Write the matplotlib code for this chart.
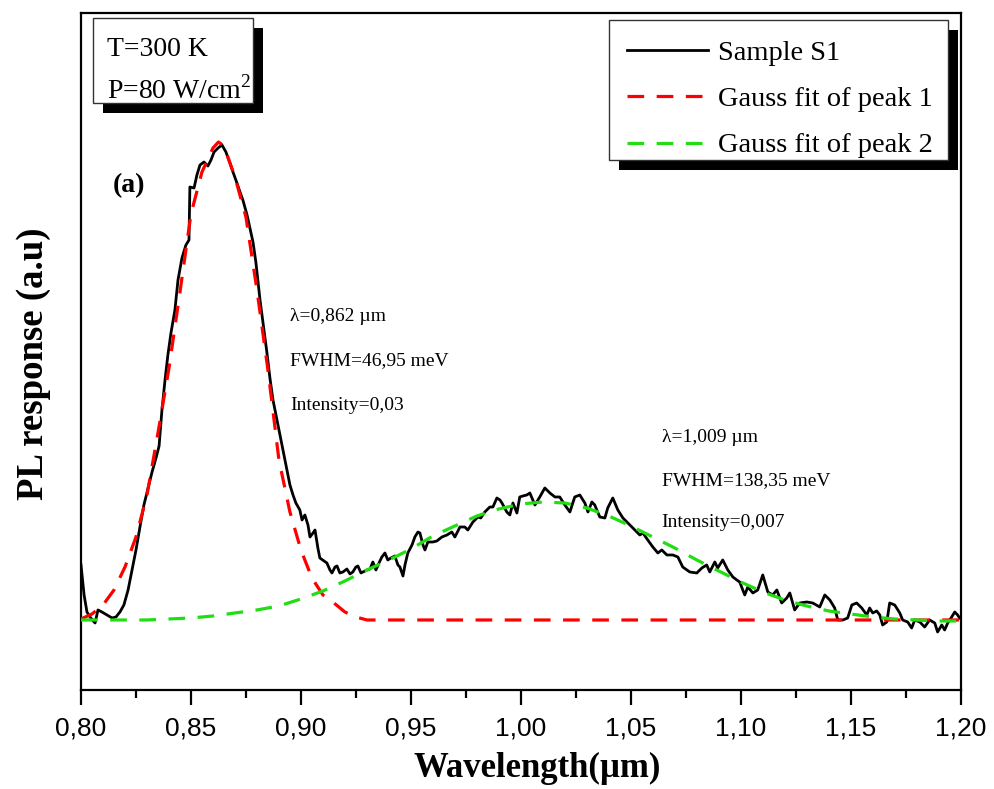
import matplotlib
matplotlib.use("Agg")
import matplotlib.pyplot as plt
from matplotlib.patches import Rectangle
from matplotlib.ticker import MultipleLocator, FuncFormatter

plt.rcParams['font.family'] = ['Liberation Serif', 'DejaVu Serif']
plt.rcParams['lines.scale_dashes'] = False

# measured PL spectrum of sample S1 (wavelength in um, intensity in a.u.)
sample_wl = [0.8000, 0.8014, 0.8027, 0.8041, 0.8055, 0.8064, 0.8077, 0.8095, 0.8118, 0.8141,
             0.8159, 0.8177, 0.8195, 0.8214, 0.8232, 0.8250, 0.8268, 0.8286, 0.8305, 0.8323,
             0.8341, 0.8355, 0.8368, 0.8382, 0.8395, 0.8409, 0.8427, 0.8441, 0.8459, 0.8477,
             0.8491, 0.8495, 0.8514, 0.8527, 0.8541, 0.8559, 0.8577, 0.8591, 0.8605, 0.8623,
             0.8641, 0.8659, 0.8677, 0.8691, 0.8709, 0.8723, 0.8736, 0.8755, 0.8768, 0.8782,
             0.8795, 0.8814, 0.8832, 0.8845, 0.8859, 0.8873, 0.8891, 0.8905, 0.8923, 0.8936,
             0.8950, 0.8964, 0.8977, 0.8995, 0.9005, 0.9018, 0.9032, 0.9041, 0.9055, 0.9064,
             0.9077, 0.9086, 0.9105, 0.9118, 0.9132, 0.9141, 0.9155, 0.9164, 0.9177, 0.9191,
             0.9209, 0.9223, 0.9236, 0.9250, 0.9259, 0.9273, 0.9282, 0.9300, 0.9314, 0.9327,
             0.9341, 0.9355, 0.9368, 0.9382, 0.9395, 0.9409, 0.9427, 0.9441, 0.9450, 0.9464,
             0.9473, 0.9486, 0.9505, 0.9518, 0.9532, 0.9541, 0.9555, 0.9564, 0.9577, 0.9600,
             0.9618, 0.9641, 0.9664, 0.9686, 0.9700, 0.9723, 0.9745, 0.9759, 0.9782, 0.9805,
             0.9818, 0.9836, 0.9859, 0.9873, 0.9891, 0.9905, 0.9914, 0.9936, 0.9950, 0.9964,
             0.9982, 0.9995, 1.0009, 1.0027, 1.0041, 1.0064, 1.0086, 1.0109, 1.0132, 1.0155,
             1.0177, 1.0200, 1.0223, 1.0245, 1.0268, 1.0291, 1.0305, 1.0323, 1.0336, 1.0359,
             1.0382, 1.0395, 1.0418, 1.0441, 1.0464, 1.0482, 1.0495, 1.0518, 1.0541, 1.0555,
             1.0577, 1.0600, 1.0623, 1.0641, 1.0664, 1.0691, 1.0714, 1.0736, 1.0755, 1.0768,
             1.0800, 1.0823, 1.0845, 1.0859, 1.0882, 1.0895, 1.0918, 1.0941, 1.0964, 1.0982,
             1.0995, 1.1018, 1.1032, 1.1055, 1.1077, 1.1100, 1.1123, 1.1145, 1.1164, 1.1186,
             1.1209, 1.1223, 1.1245, 1.1268, 1.1300, 1.1327, 1.1359, 1.1382, 1.1405, 1.1427,
             1.1441, 1.1464, 1.1486, 1.1505, 1.1527, 1.1550, 1.1573, 1.1586, 1.1600, 1.1618,
             1.1632, 1.1645, 1.1664, 1.1677, 1.1700, 1.1723, 1.1736, 1.1759, 1.1777, 1.1791,
             1.1814, 1.1836, 1.1859, 1.1882, 1.1895, 1.1914, 1.1927, 1.1941, 1.1959, 1.1973,
             1.1986, 1.1995]
sample_pl = [55, 25, 8, 3, -1, -3, 10, 8, 5, 2,
             3, 8, 15, 30, 50, 70, 93, 115, 132, 148,
             162, 174, 210, 240, 265, 287, 310, 340, 362, 375,
             380, 433, 432, 445, 455, 458, 454, 460, 468, 472,
             475, 468, 457, 448, 437, 428, 420, 405, 392, 378,
             358, 320, 290, 268, 242, 220, 200, 185, 165, 150,
             135, 125, 117, 110, 100, 105, 95, 83, 87, 90,
             72, 62, 59, 57, 50, 47, 53, 54, 47, 48,
             51, 46, 48, 53, 54, 47, 48, 50, 51, 58,
             50, 57, 63, 67, 60, 62, 64, 55, 53, 44,
             55, 67, 75, 83, 88, 87, 75, 70, 78, 78,
             79, 83, 85, 88, 83, 93, 93, 90, 98, 103,
             102, 108, 113, 113, 122, 120, 117, 108, 105, 117,
             107, 123, 124, 125, 127, 115, 123, 132, 127, 123,
             123, 115, 108, 123, 125, 117, 108, 118, 115, 103,
             102, 112, 122, 110, 102, 98, 95, 90, 85, 87,
             80, 73, 67, 70, 65, 65, 63, 53, 50, 48,
             47, 52, 55, 48, 58, 52, 60, 50, 43, 40,
             38, 25, 33, 27, 30, 45, 28, 25, 30, 17,
             22, 27, 10, 17, 18, 17, 13, 25, 20, 12,
             0, 0, 2, 15, 17, 12, 5, 12, 7, 9,
             5, -5, -2, 17, 15, 7, 0, -2, -8, 0,
             -2, -7, 0, -3, -12, -5, -10, -3, 3, 8,
             5, 2]

# Gauss fit of peak 1
fit1_wl = [0.800, 0.805, 0.810, 0.815, 0.820, 0.825, 0.830, 0.835, 0.840, 0.845,
           0.850, 0.855, 0.860, 0.8625, 0.865, 0.870, 0.875, 0.880, 0.885, 0.890,
           0.895, 0.900, 0.905, 0.910, 0.915, 0.920, 0.925, 0.930, 0.950, 1.000,
           1.050, 1.100, 1.150, 1.200]
fit1_pl = [1, 6, 15, 30, 53, 83, 125, 187, 252, 328,
           406, 448, 472, 478, 474, 443, 403, 330, 250, 160,
           108, 70, 42, 25, 17, 8, 3, 0, 0, 0,
           0, 0, 0, 0]

# Gauss fit of peak 2
fit2_wl = [0.80, 0.81, 0.82, 0.83, 0.84, 0.85, 0.86, 0.87, 0.88, 0.89,
           0.90, 0.91, 0.92, 0.93, 0.94, 0.95, 0.96, 0.97, 0.98, 0.99,
           1.00, 1.01, 1.02, 1.03, 1.04, 1.05, 1.06, 1.07, 1.08, 1.09,
           1.10, 1.11, 1.12, 1.13, 1.14, 1.15, 1.16, 1.17, 1.18, 1.19, 1.20]
fit2_pl = [0, 0, 0, 0, 1, 2, 4, 7, 10, 14,
           21, 29, 39, 50, 60, 71, 84, 94, 104, 111,
           116, 118, 117, 112, 104, 94, 83, 72, 60, 49,
           38, 28, 20, 14, 9, 6, 3, 1, 0, -1, -1]

peak1_text = ["\u03bb=0,862 \u00b5m", "FWHM=46,95 meV", "Intensity=0,03"]
peak2_text = ["\u03bb=1,009 \u00b5m", "FWHM=138,35 meV", "Intensity=0,007"]

fig = plt.figure(figsize=(9.94, 7.89), dpi=100)
ax = fig.add_axes([0.0815, 0.1255, 0.885, 0.858])

ax.plot(sample_wl, sample_pl, color='black', lw=2.0, label='Sample S1', zorder=3)
ax.plot(fit1_wl, fit1_pl, color='#ff0000', lw=2.3, dashes=(12, 9), label='Gauss fit of peak 1', zorder=4)
ax.plot(fit2_wl, fit2_pl, color='#22dd11', lw=2.3, dashes=(12, 9), label='Gauss fit of peak 2', zorder=4)

ax.set_xlim(0.80, 1.20)
ax.set_ylim(-70, 607)
ax.set_yticks([])
ax.xaxis.set_major_locator(MultipleLocator(0.05))
ax.xaxis.set_minor_locator(MultipleLocator(0.025))
ax.xaxis.set_major_formatter(FuncFormatter(lambda v, p: f"{v:.2f}".replace('.', ',')))
ax.tick_params(axis='x', which='major', direction='out', length=11, width=1.6, pad=8)
ax.tick_params(axis='x', which='minor', direction='out', length=6, width=1.6)
for lab in ax.get_xticklabels():
    lab.set_fontfamily('Liberation Sans')
    lab.set_fontsize(19)
for s in ax.spines.values():
    s.set_linewidth(1.6)

ax.set_xlabel("Wavelength(\u00b5m)", fontsize=25, fontweight='bold')
ax.xaxis.set_label_coords(0.519, -0.091)
ax.set_ylabel("PL response (a.u)", fontsize=26.5, fontweight='bold')
ax.yaxis.set_label_coords(-0.034, 0.4815)

# boxes with black drop shadow (axes fraction)
def shadow_box(x0, y0, x1, y1, dx=0.0114, dy=0.0148):
    ax.add_patch(Rectangle((x0 + dx, y0 - dy), x1 - x0, y1 - y0, transform=ax.transAxes,
                           facecolor='black', edgecolor='none', zorder=6))
    ax.add_patch(Rectangle((x0, y0), x1 - x0, y1 - y0, transform=ax.transAxes,
                           facecolor='white', edgecolor='#333333', lw=1.0, zorder=7))

shadow_box(0.0136, 0.867, 0.1955, 0.9926)
ax.text(0.030, 0.946, "T=300 K", transform=ax.transAxes, fontsize=20, va='center', zorder=8)
ax.text(0.030, 0.886, "P=80 W/cm$^\\mathregular{2}$", transform=ax.transAxes, fontsize=20,
        va='center', zorder=8)

shadow_box(0.600, 0.783, 0.985, 0.9897)
leg = ax.legend(loc='upper left', bbox_to_anchor=(0.614, 0.969), frameon=False, fontsize=20.5,
                handlelength=2.85, handletextpad=0.35, labelspacing=0.72, borderpad=0.2,
                borderaxespad=0)
leg.set_zorder(9)

ax.text(0.036, 0.745, "(a)", transform=ax.transAxes, fontsize=20, fontweight='bold', va='center')

for i, t in enumerate(peak1_text):
    ax.text(0.238, 0.552 - i * 0.066, t, transform=ax.transAxes, fontsize=14, va='center')
for i, t in enumerate(peak2_text):
    ax.text(0.660, 0.373 - i * 0.063, t, transform=ax.transAxes, fontsize=14, va='center')

fig.savefig("out.png", dpi=100, facecolor='white')
